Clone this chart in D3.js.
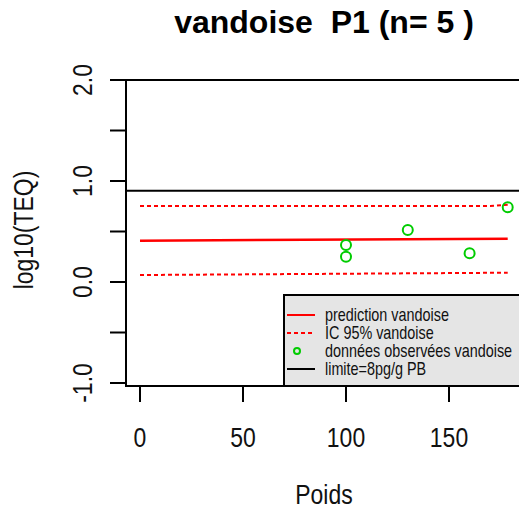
<!DOCTYPE html>
<html>
<head>
<meta charset="utf-8">
<script src="https://cdn.jsdelivr.net/npm/d3@7"></script>
<style>
body{margin:0;background:#fff;}
text{font-family:"Liberation Sans",Arial,sans-serif;white-space:pre;}
</style>
</head>
<body>
<script>
//data
var titleText = "vandoise  P1 (n= 5 )";
var xTicks = [0,50,100,150];
var yTicks = [-1,-0.5,0,0.5,1,1.5,2];
var yTickLabels = ["-1.0","","0.0","","1.0","","2.0"];

//observed points
var poids = [100,100,130,160,178.5];
var teq = [0.366,0.25,0.515,0.284,0.74];

//prediction and confidence band
var predX = [0,178.5];
var predY = [0.409,0.429];
var icHautX = [0,170,178.5];
var icHautY = [0.752,0.752,0.765];
var icBasX = [0,178.5];
var icBasY = [0.069,0.092];

var limite = Math.log10(8);

var legendLabels = ["prediction vandoise","IC 95% vandoise","données observées vandoise","limite=8pg/g PB"];

var width = 519, height = 508;
var box = {left:126, top:80, right:521, bottom:386};
var narrow = 0.82; //R text here is condensed horizontally

var svg = d3.select("body").append("svg")
            .attr("width", width)
            .attr("height", height);

var x = d3.scaleLinear().domain([0,150]).range([140,449]);
var y = d3.scaleLinear().domain([-1,2]).range([383,80]);

//title
svg.append("text")
   .attr("x", 324).attr("y", 33)
   .attr("text-anchor","middle")
   .style("font-weight","bold")
   .style("font-size","32px")
   .text(titleText);

//plot box
svg.append("rect")
   .attr("x", box.left).attr("y", box.top)
   .attr("width", box.right-box.left).attr("height", box.bottom-box.top)
   .attr("fill","none").attr("stroke","black").attr("stroke-width",2);

//y axis
var yAxis = svg.append("g").attr("transform","translate("+box.left+",0)");
yAxis.append("line").attr("x1",0).attr("x2",0).attr("y1",y(2)).attr("y2",y(-1))
     .attr("stroke","black").attr("stroke-width",2);
yAxis.selectAll(".ytick").data(yTicks).enter().append("line")
     .attr("x1",0).attr("x2",-16)
     .attr("y1",function(d){return y(d)}).attr("y2",function(d){return y(d)})
     .attr("stroke","black").attr("stroke-width",2);
svg.selectAll(".ylab").data(yTicks).enter().append("text")
   .attr("transform",function(d){return "translate(92,"+y(d)+") rotate(-90) scale("+narrow+",1)"})
   .attr("text-anchor","middle")
   .style("font-size","28px").style("fill","#111")
   .text(function(d,i){return yTickLabels[i]});

//x axis
var xAxis = svg.append("g").attr("transform","translate(0,"+box.bottom+")");
xAxis.append("line").attr("x1",x(0)).attr("x2",x(150)).attr("y1",0).attr("y2",0)
     .attr("stroke","black").attr("stroke-width",2);
xAxis.selectAll(".xtick").data(xTicks).enter().append("line")
     .attr("x1",function(d){return x(d)}).attr("x2",function(d){return x(d)})
     .attr("y1",0).attr("y2",16)
     .attr("stroke","black").attr("stroke-width",2);
xAxis.selectAll(".xlab").data(xTicks).enter().append("text")
     .attr("transform",function(d){return "translate("+x(d)+",61) scale("+narrow+",1)"})
     .attr("text-anchor","middle")
     .style("font-size","28px").style("fill","#111")
     .text(function(d){return d});

//axis titles
svg.append("text").attr("transform","translate(324,504) scale("+narrow+",1)")
   .attr("text-anchor","middle").style("font-size","28px").style("fill","#111")
   .text("Poids");
svg.append("text").attr("transform","translate(33,230) rotate(-90) scale("+narrow+",1)")
   .attr("text-anchor","middle").style("font-size","28px").style("fill","#111")
   .text("log10(TEQ)");

//limit line
svg.append("line").attr("x1",box.left).attr("x2",box.right)
   .attr("y1",y(limite)).attr("y2",y(limite))
   .attr("stroke","black").attr("stroke-width",2);

var line = d3.line().x(function(d){return x(d[0])}).y(function(d){return y(d[1])});

svg.append("path").datum(d3.zip(icHautX,icHautY)).attr("d",line)
   .attr("fill","none").attr("stroke","#ff0000").attr("stroke-width",2)
   .attr("stroke-dasharray","4,3");
svg.append("path").datum(d3.zip(icBasX,icBasY)).attr("d",line)
   .attr("fill","none").attr("stroke","#ff0000").attr("stroke-width",2)
   .attr("stroke-dasharray","4,3");
svg.append("path").datum(d3.zip(predX,predY)).attr("d",line)
   .attr("fill","none").attr("stroke","#ff0000").attr("stroke-width",2.5);

//observed points
svg.selectAll(".pt").data(d3.zip(poids,teq)).enter().append("circle")
   .attr("cx",function(d){return x(d[0])}).attr("cy",function(d){return y(d[1])})
   .attr("r",5).attr("fill","none").attr("stroke","#00cc00").attr("stroke-width",2);

//legend
var leg = svg.append("g");
leg.append("rect").attr("x",284).attr("y",295).attr("width",250).attr("height",91)
   .attr("fill","#e5e5e5").attr("stroke","black").attr("stroke-width",2);
var rowY = [315,333,351,369];
var legColors = ["#ff0000","#ff0000","#00cc00","black"];
leg.selectAll(".legline").data([0,1,3]).enter().append("line")
   .attr("x1",287).attr("x2",315)
   .attr("y1",function(d){return rowY[d]}).attr("y2",function(d){return rowY[d]})
   .attr("stroke",function(d){return legColors[d]}).attr("stroke-width",2)
   .attr("stroke-dasharray",function(d){return d==1 ? "4,3" : null});
leg.append("circle").attr("cx",297).attr("cy",rowY[2]).attr("r",3)
   .attr("fill","none").attr("stroke","#00cc00").attr("stroke-width",2);
leg.selectAll(".legtext").data(legendLabels).enter().append("text")
   .attr("transform",function(d,i){return "translate(325,"+(rowY[i]+6)+") scale(0.8,1)"})
   .style("font-size","18px").style("fill","#111")
   .text(function(d){return d});
</script>
</body>
</html>
